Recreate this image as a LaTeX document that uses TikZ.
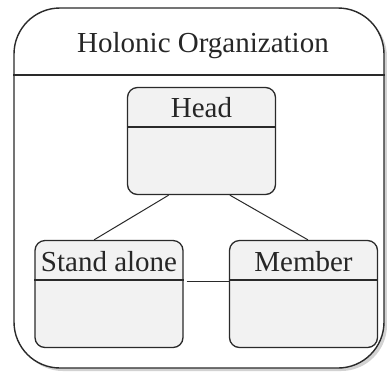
\documentclass[tikz,border=0pt]{standalone}
\usepackage{fontspec}
\setmainfont{Liberation Serif}
\usetikzlibrary{shadows,calc}
\definecolor{boxfill}{HTML}{F2F2F2}
\definecolor{edge}{HTML}{2A2A2A}
\tikzset{
  outerbox/.style={draw=edge, line width=1.4pt, fill=white, rounded corners=46pt,
    minimum width=370pt, minimum height=360pt, inner sep=0pt,
    drop shadow={shadow xshift=3pt, shadow yshift=-3pt, fill=gray!70}},
  statebox/.style={draw=edge, line width=1.3pt, fill=boxfill, rounded corners=10pt,
    minimum width=148pt, minimum height=107pt, inner sep=0pt},
  lbl/.style={font=\fontsize{29}{34}\selectfont, inner sep=0pt, text=black!85},
  divider/.style={draw=edge, line width=1.3pt},
  conn/.style={draw=edge, line width=1pt}
}
\begin{document}
\begin{tikzpicture}[x=1pt,y=-1pt]
\useasboundingbox (0,0) rectangle (387,376);
\node[outerbox] (org) at (199,188) {};
\node[lbl] (title) at (203,46) {Holonic Organization};
\draw[divider] (org.west |- 0,75) coordinate (hl) -- (org.east |- 0,75) coordinate (hr);
% states
\node[statebox] (head) at (201.5,141) {};
\node[statebox] (sa) at (109,294) {};
\node[statebox] (mem) at (303.5,294) {};
\draw[divider] ([yshift=-40pt]head.north west) -- ([yshift=-40pt]head.north east);
\draw[divider] ([yshift=-40pt]sa.north west) -- ([yshift=-40pt]sa.north east);
\draw[divider] ([yshift=-40pt]mem.north west) -- ([yshift=-40pt]mem.north east);
\node[lbl] (headt) at ([yshift=-21pt]head.north) {Head};
\node[lbl] (sat) at ([yshift=-22pt]sa.north) {Stand alone};
\node[lbl] (memt) at ([yshift=-22pt]mem.north) {Member};
% connectors
\draw[conn] ($(head.south west)!0.28!(head.south east)$) -- ($(sa.north west)!0.40!(sa.north east)$);
\draw[conn] ($(head.south west)!0.69!(head.south east)$) -- ($(mem.north west)!0.53!(mem.north east)$);
\draw[conn] ([shift={(3pt,-42pt)}]sa.north east) -- ([yshift=-42pt]mem.north west);
\end{tikzpicture}
\end{document}
